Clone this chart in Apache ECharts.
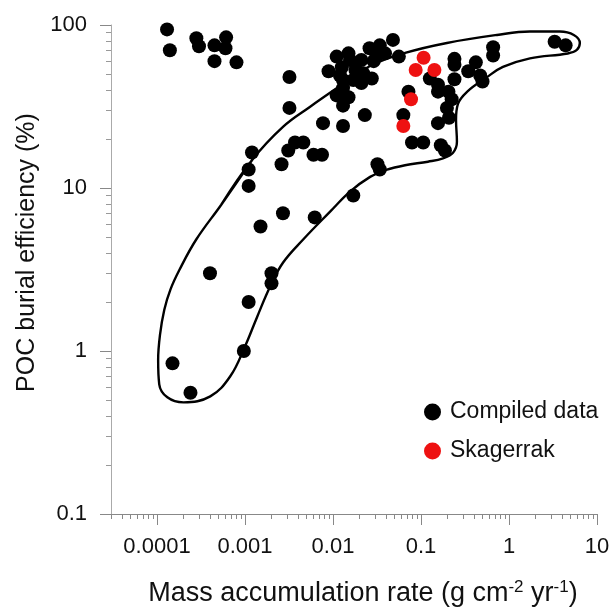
<!DOCTYPE html>
<html lang="en">
<head>
    <meta charset="UTF-8">
    <title>POC burial efficiency vs mass accumulation rate</title>
    <script src="https://cdn.jsdelivr.net/npm/echarts@6/dist/echarts.min.js"></script>
    <style>
        html, body { margin: 0; padding: 0; background: #fff; }
    </style>
</head>
<body>
<div id="main" style="width: 615px;height: 607px;"></div>

<script type="text/javascript">
    // compiled data: [mass accumulation rate (g cm-2 yr-1), POC burial efficiency (%)]
    var compiled = [
        [0.00013, 94], [0.00014, 70], [0.00028, 83], [0.0003, 74], [0.00045, 75],
        [0.00061, 84], [0.0006, 72], [0.00045, 60], [0.0008, 59],
        [0.0032, 48], [0.0032, 31], [0.0089, 52], [0.0077, 25], [0.013, 24],
        [0.0037, 19], [0.0046, 19], [0.0031, 17], [0.006, 16], [0.0075, 16],
        [0.0012, 16.5], [0.0011, 13], [0.0026, 14], [0.0011, 10.3],
        [0.0027, 7], [0.0062, 6.6], [0.0015, 5.8], [0.0004, 3], [0.002, 3],
        [0.002, 2.6], [0.0011, 2], [0.00097, 1], [0.00015, 0.84], [0.00024, 0.555],
        [0.017, 9], [0.032, 14], [0.034, 13], [0.048, 81], [0.056, 64],
        [0.072, 39], [0.063, 28], [0.079, 19], [0.106, 19], [0.168, 18.3], [0.187, 17],
        [0.24, 62], [0.24, 57], [0.24, 46.5], [0.126, 47], [0.156, 43], [0.156, 39],
        [0.205, 39], [0.223, 35], [0.197, 31], [0.208, 27], [0.156, 25],
        [0.344, 52], [0.42, 59], [0.47, 49], [0.5, 45], [0.66, 73], [0.66, 65],
        [3.3, 79], [4.4, 75],
        [0.026, 72], [0.034, 75], [0.039, 67], [0.011, 64], [0.015, 67], [0.0156, 61],
        [0.021, 61], [0.029, 60], [0.031, 64], [0.0126, 55], [0.018, 53], [0.022, 50.6],
        [0.0276, 47], [0.013, 46], [0.017, 46], [0.021, 44], [0.013, 41], [0.011, 37],
        [0.015, 36], [0.013, 32], [0.023, 28], [0.012, 49]
    ];

    var skagerrak = [
        [0.107, 63], [0.087, 53], [0.142, 53], [0.077, 35], [0.063, 24]
    ];

    // hand-drawn envelope round the compiled data (starts and ends on a straight stretch)
    var envelope = [
        [0.000537, 7.9], [0.00121, 14.9], [0.0027, 23.7], [0.0055, 31.5], [0.0111, 41],
        [0.0264, 56], [0.066, 67.4], [0.197, 77.6], [0.73, 86.9], [1.73, 91.2],
        [3.78, 91.2], [5.45, 86.9], [6.38, 77.6], [5.9, 70.3], [4.66, 66.9],
        [1.73, 62.4], [0.853, 55.3], [0.547, 47.4], [0.333, 38.9], [0.263, 32.8],
        [0.25, 26.2], [0.256, 19.2], [0.231, 16.45], [0.178, 15.2], [0.12, 14.5],
        [0.0658, 13.8], [0.0401, 12.9], [0.0264, 11.7], [0.0156, 9.5], [0.00927, 7.16],
        [0.00458, 4.83], [0.00271, 3.49], [0.00193, 2.49], [0.00138, 1.63], [0.001, 1.067],
        [0.00068, 0.70], [0.000403, 0.527], [0.0002, 0.484], [0.000131, 0.52],
        [0.000106, 0.625], [0.000103, 0.88], [0.000108, 1.25], [0.000121, 1.79],
        [0.000142, 2.38], [0.000180, 3.15], [0.000279, 4.83], [0.000537, 7.9],
        [0.00121, 14.9]
    ];

    var xTickValues = [0.0001, 0.001, 0.01, 0.1, 1, 10];
    var xTickLabels = ['0.0001', '0.001', '0.01', '0.1', '1', '10'];
    var yTickValues = [0.1, 1, 10, 100];
    var yTickLabels = ['0.1', '1', '10', '100'];

    // minor ticks at 2..9 of each decade
    function minorTicks(from, to, min, max) {
        var list = [];
        for (var d = from; d < to; d++) {
            for (var k = 2; k <= 9; k++) {
                var v = k * Math.pow(10, d);
                if (v >= min * 0.999 && v <= max * 1.001) list.push(v);
            }
        }
        return list;
    }

    function pickLabel(values, labels) {
        return function (v) {
            for (var i = 0; i < values.length; i++) {
                if (Math.abs(Math.log10(v) - Math.log10(values[i])) < 1e-6) return labels[i];
            }
            return '';
        };
    }

    var font = '"Liberation Sans", Arial, sans-serif';
    var xMin = 3e-5, xMax = 10, yMin = 0.1, yMax = 100;

    var myChart = echarts.init(document.getElementById('main'));

    var option = {
        animation: false,
        grid: {left: 111, right: 18, top: 25, bottom: 93, outerBoundsMode: 'none', containLabel: false},
        legend: {
            orient: 'vertical',
            left: 419,
            top: 395,
            itemWidth: 17,
            itemHeight: 17,
            itemGap: 15,
            textStyle: {fontSize: 23, lineHeight: 24, fontFamily: font, color: '#111', padding: [0, 0, 0, 4]},
            data: [
                {name: 'Compiled data', icon: 'circle'},
                {name: 'Skagerrak', icon: 'circle'}
            ]
        },
        xAxis: [
            {
                type: 'log', logBase: 10, min: xMin, max: xMax,
                name: 'Mass accumulation rate (g cm{sup|-2} yr{sup|-1})',
                nameLocation: 'middle',
                nameGap: 65,
                nameTextStyle: {
                    fontSize: 27, fontFamily: font, color: '#111', padding: [0, 0, 0, 18],
                    rich: {sup: {fontSize: 17, fontFamily: font, color: '#111', verticalAlign: 'bottom', padding: [0, 0, 13, 0]}}
                },
                axisLine: {lineStyle: {color: '#888', width: 1}},
                axisTick: {customValues: xTickValues, length: 11, lineStyle: {color: '#888'}},
                axisLabel: {
                    customValues: xTickValues, margin: 22, fontSize: 22, fontFamily: font, color: '#111',
                    formatter: pickLabel(xTickValues, xTickLabels)
                },
                splitLine: {show: false}
            },
            {
                type: 'log', logBase: 10, min: xMin, max: xMax, position: 'bottom',
                axisLine: {show: false},
                axisTick: {customValues: minorTicks(-5, 1, xMin, xMax), length: 5, lineStyle: {color: '#888'}},
                axisLabel: {show: false},
                splitLine: {show: false}
            }
        ],
        yAxis: [
            {
                type: 'log', logBase: 10, min: yMin, max: yMax,
                name: 'POC burial efficiency (%)',
                nameLocation: 'middle',
                nameGap: 63,
                nameTextStyle: {fontSize: 25, fontFamily: font, color: '#111', padding: [0, 0, 0, 34]},
                axisLine: {lineStyle: {color: '#aaa', width: 1}},
                axisTick: {customValues: yTickValues, length: 11, lineStyle: {color: '#888'}},
                axisLabel: {
                    customValues: yTickValues, margin: 24, fontSize: 22, fontFamily: font, color: '#111',
                    formatter: pickLabel(yTickValues, yTickLabels)
                },
                splitLine: {show: false}
            },
            {
                type: 'log', logBase: 10, min: yMin, max: yMax, position: 'left',
                axisLine: {show: false},
                axisTick: {customValues: minorTicks(-1, 2, yMin, yMax), length: 5, lineStyle: {color: '#999'}},
                axisLabel: {show: false},
                splitLine: {show: false}
            }
        ],
        series: [
            {
                name: 'envelope',
                type: 'line',
                data: envelope,
                smooth: 0.4,
                showSymbol: false,
                silent: true,
                z: 1,
                lineStyle: {color: '#000', width: 2.4}
            },
            {
                name: 'Compiled data',
                type: 'scatter',
                data: compiled,
                symbol: 'circle',
                symbolSize: 14,
                z: 2,
                itemStyle: {color: '#000', opacity: 1}
            },
            {
                name: 'Skagerrak',
                type: 'scatter',
                data: skagerrak,
                symbol: 'circle',
                symbolSize: 14,
                z: 3,
                itemStyle: {color: '#ee1111', opacity: 1}
            }
        ]
    };

    myChart.setOption(option);
</script>
</body>
</html>
